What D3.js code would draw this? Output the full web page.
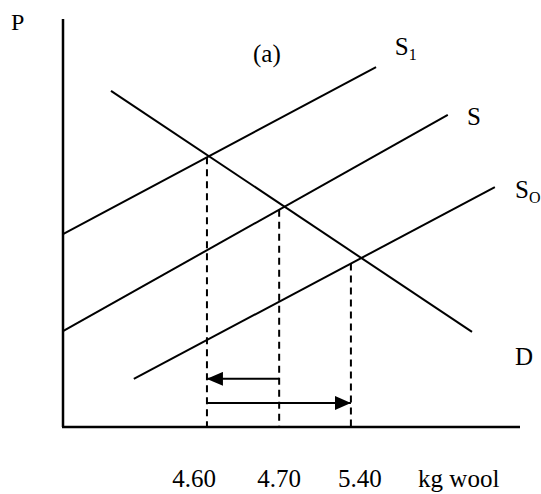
<!DOCTYPE html>
<html>
<head>
<meta charset="utf-8">
<script src="https://cdn.jsdelivr.net/npm/d3@7.9.0/dist/d3.min.js"></script>
<style>
  html, body { margin: 0; padding: 0; background: #fff; }
  svg text { font-family: "Liberation Serif", "Times New Roman", serif; fill: #000; }
</style>
</head>
<body>
<svg id="chart" width="541" height="494"></svg>
<script>
// schematic units: quantity 0..100, price 0..100
const demand = [[10.5, 82.4], [89.5, 23.3]];
const supply1 = [[0, 47.3], [68.5, 88.2]];
const supply = [[0, 23.5], [84.2, 76.5]];
const supply0 = [[15.5, 11.8], [94.5, 58.8]];

// equilibrium quantities and the supply curve each dashed line rises to
const eqQty = [31.5, 47.3, 63.0];
const eqCurve = [supply1, supply, supply0];

const tickLabels = ['4.60', '4.70', '5.40', 'kg wool'];
const tickLabelQty = [23.9, 42.5, 60.2, 77.7];

// arrows: [from, to] in quantity, at a price level
const arrows = [
  { from: 47.3, to: 31.5, p: 11.8 },
  { from: 31.5, to: 63.0, p: 5.9 }
];

const curveLabels = [
  { text: 'S', sub: '1', q: 72.6, p: 91.2 },
  { text: 'S', sub: '', q: 88.4, p: 73.9 },
  { text: 'S', sub: 'O', q: 98.9, p: 56.1 },
  { text: 'D', sub: '', q: 98.9, p: 15.2 }
];

const svg = d3.select('#chart');
const x = d3.scaleLinear().domain([0, 100]).range([63, 520]);
const y = d3.scaleLinear().domain([0, 100]).range([427, 19]);

const line = d3.line().x(d => x(d[0])).y(d => y(d[1]));

// price on a straight curve at quantity q
function priceAt(c, q) {
  const [a, b] = c;
  return a[1] + (b[1] - a[1]) * (q - a[0]) / (b[0] - a[0]);
}

// axes
svg.append('line')
  .attr('x1', x(0)).attr('y1', y(100)).attr('x2', x(0)).attr('y2', y(0))
  .attr('stroke', '#000').attr('stroke-width', 2.5);
svg.append('line')
  .attr('x1', x(0) - 1).attr('y1', y(0)).attr('x2', x(100)).attr('y2', y(0))
  .attr('stroke', '#000').attr('stroke-width', 2.5);

// dashed drop lines
eqQty.forEach((q, i) => {
  svg.append('line')
    .attr('x1', x(q)).attr('x2', x(q))
    .attr('y1', y(priceAt(eqCurve[i], q))).attr('y2', y(0))
    .attr('stroke', '#000').attr('stroke-width', 2)
    .attr('stroke-dasharray', '7,5');
});

// curves
[demand, supply1, supply, supply0].forEach(c => {
  svg.append('path')
    .attr('d', line(c))
    .attr('fill', 'none')
    .attr('stroke', '#000')
    .attr('stroke-width', 2);
});

// arrows
svg.append('defs').append('marker')
  .attr('id', 'head')
  .attr('viewBox', '0 0 16 14')
  .attr('refX', 16).attr('refY', 7)
  .attr('markerWidth', 16).attr('markerHeight', 14)
  .attr('markerUnits', 'userSpaceOnUse')
  .attr('orient', 'auto')
  .append('path')
  .attr('d', 'M0,0 L16,7 L0,14 Z')
  .attr('fill', '#000');

arrows.forEach(a => {
  svg.append('line')
    .attr('x1', x(a.from)).attr('x2', x(a.to))
    .attr('y1', y(a.p)).attr('y2', y(a.p))
    .attr('stroke', '#000').attr('stroke-width', 2)
    .attr('marker-end', 'url(#head)');
});

// curve labels
curveLabels.forEach(l => {
  const t = svg.append('text')
    .attr('x', x(l.q)).attr('y', y(l.p))
    .attr('font-size', 25)
    .text(l.text);
  if (l.sub) {
    t.append('tspan')
      .attr('dy', 5)
      .attr('font-size', 16)
      .text(l.sub);
  }
});

// axis label and panel label
svg.append('text').attr('x', 11).attr('y', 30).attr('font-size', 24).text('P');
svg.append('text').attr('x', 253).attr('y', 62).attr('font-size', 25).text('(a)');

// quantity labels
tickLabels.forEach((t, i) => {
  svg.append('text')
    .attr('x', x(tickLabelQty[i]))
    .attr('y', 487)
    .attr('font-size', 25)
    .text(t);
});
</script>
</body>
</html>
